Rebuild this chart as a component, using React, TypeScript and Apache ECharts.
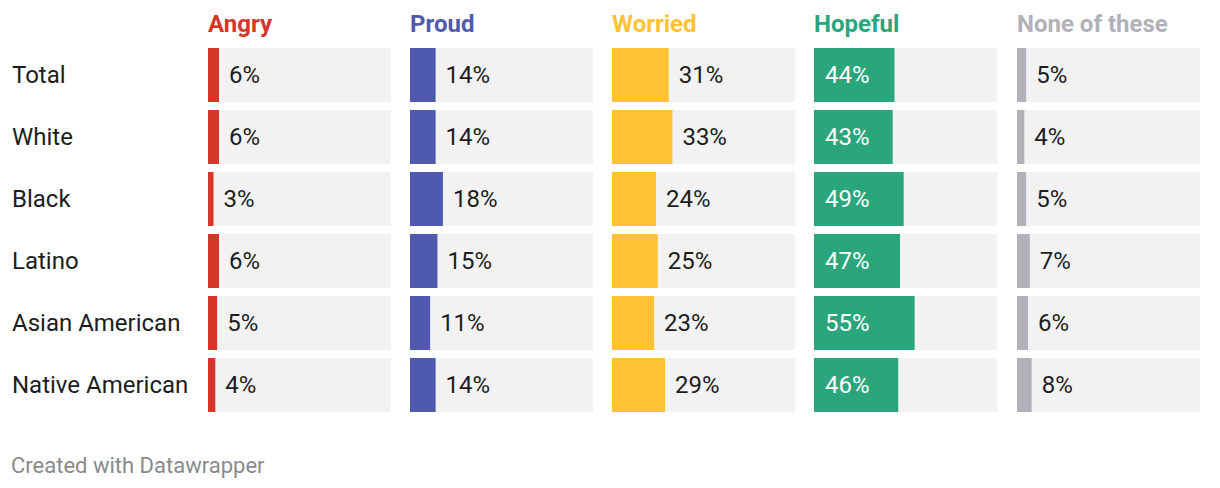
import React, { useEffect, useRef } from "react";
import * as echarts from "echarts";

const categories = ["Total", "White", "Black", "Latino", "Asian American", "Native American"];
const columnTitles = ["Angry", "Proud", "Worried", "Hopeful", "None of these"];
const angry = [6, 6, 3, 6, 5, 4];
const proud = [14, 14, 18, 15, 11, 14];
const worried = [31, 33, 24, 25, 23, 29];
const hopeful = [44, 43, 49, 47, 55, 46];
const noneOfThese = [5, 4, 5, 7, 6, 8];
const colors = ["#d8352a", "#4f5aae", "#fec234", "#2ba57b", "#b2b1ba"];
const labelInside = [false, false, false, true, false];

const FONT = "Roboto, 'Noto Sans', sans-serif";

export default function App() {
  const ref = useRef<HTMLDivElement>(null);
  useEffect(() => {
    if (!ref.current) return;
    const chart = echarts.init(ref.current, null, { renderer: "svg" });
    const values = [angry, proud, worried, hopeful, noneOfThese];
    const lefts = [208, 410, 612, 814, 1017];
    const gw = 183;
    const top = 44;
    const height = 372;
    const grids = lefts.map((l) => ({ left: l, top, width: gw, height }));
    const xAxes = lefts.map((_, i) => ({
      type: "value",
      gridIndex: i,
      min: 0,
      max: 100,
      show: false,
    }));
    const yAxes = lefts.map((_, i) => ({
      type: "category",
      gridIndex: i,
      data: categories,
      inverse: true,
      axisLine: { show: false },
      axisTick: { show: false },
      splitLine: { show: false },
      axisLabel:
        i === 0
          ? {
              show: true,
              align: "left",
              margin: 196,
              color: "#1d1d1d",
              fontSize: 24,
              fontFamily: FONT,
            }
          : { show: false },
    }));
    const series = values.map((v, i) => ({
      type: "bar",
      name: columnTitles[i],
      xAxisIndex: i,
      yAxisIndex: i,
      data: v,
      barWidth: 54,
      itemStyle: { color: colors[i] },
      showBackground: true,
      backgroundStyle: { color: "#f2f2f2" },
      label: {
        show: true,
        position: labelInside[i] ? "insideLeft" : "right",
        distance: labelInside[i] ? 11 : 10,
        formatter: "{c}%",
        color: labelInside[i] ? "#ffffff" : "#1d1d1d",
        fontSize: 24,
        fontFamily: FONT,
      },
    }));
    const graphic: any[] = columnTitles.map((t, i) => ({
      type: "text",
      left: lefts[i],
      top: 12,
      style: {
        text: t,
        fill: colors[i],
        font: `bold 24px ${FONT}`,
      },
    }));
    graphic.push({
      type: "text",
      left: 11,
      top: 454,
      style: {
        text: "Created with Datawrapper",
        fill: "#8a8a8a",
        font: `22px ${FONT}`,
      },
    });
    chart.setOption({
      animation: false,
      backgroundColor: "#ffffff",
      grid: grids,
      xAxis: xAxes,
      yAxis: yAxes,
      series,
      graphic,
    });
    return () => chart.dispose();
  }, []);
  return (
    <div
      ref={ref}
      style={{ position: "fixed", left: 0, top: 0, width: 1220, height: 488 }}
    />
  );
}
